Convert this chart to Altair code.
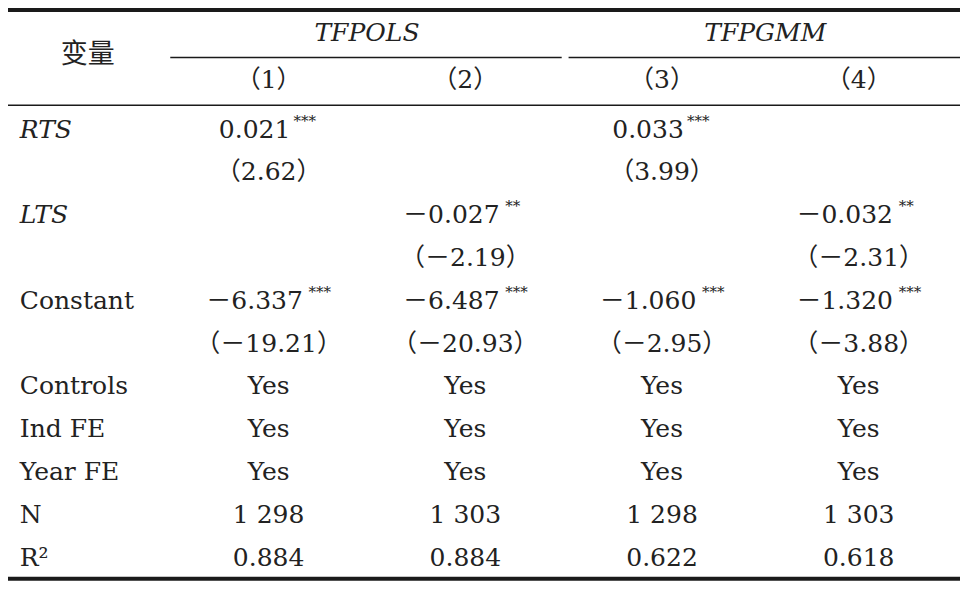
import altair as alt
import pandas as pd

# ---------------- data ----------------
stub_header = "变量"
groups = ["TFPOLS", "TFPGMM"]
col_heads = ["（1）", "（2）", "（3）", "（4）"]

coef_vars = ["RTS", "LTS", "Constant"]
coef_italic = [True, True, False]
coef = [
    ["0.021", "", "－6.337"],
    ["", "－0.027", "－6.487"],
    ["0.033", "", "－1.060"],
    ["", "－0.032", "－1.320"],
]
stars = [
    ["***", "", "***"],
    ["", "**", "***"],
    ["***", "", "***"],
    ["", "**", "***"],
]
tstat = [
    ["（2.62）", "", "（－19.21）"],
    ["", "（－2.19）", "（－20.93）"],
    ["（3.99）", "", "（－2.95）"],
    ["", "（－2.31）", "（－3.88）"],
]
stat_rows = ["Controls", "Ind FE", "Year FE", "N", "R²"]
stat_vals = [
    ["Yes", "Yes", "Yes", "1 298", "0.884"],
    ["Yes", "Yes", "Yes", "1 303", "0.884"],
    ["Yes", "Yes", "Yes", "1 298", "0.622"],
    ["Yes", "Yes", "Yes", "1 303", "0.618"],
]

# ---------------- build tables ----------------
LABEL_X = -0.265
labels = []
for i, v in enumerate(coef_vars):
    labels.append({"x": LABEL_X, "y": 2 * i, "text": v, "italic": coef_italic[i]})
for j, v in enumerate(stat_rows):
    labels.append({"x": LABEL_X, "y": 6 + j, "text": v, "italic": False})
labels = pd.DataFrame(labels)

cells, coefs = [], []
for k in range(4):
    for i in range(len(coef_vars)):
        if coef[k][i]:
            coefs.append({"x": k + 1, "y": 2 * i, "text": coef[k][i],
                          "stars": stars[k][i], "neg": coef[k][i].startswith("－")})
        if tstat[k][i]:
            cells.append({"x": k + 1, "y": 2 * i + 1, "text": tstat[k][i]})
    for j in range(len(stat_rows)):
        cells.append({"x": k + 1, "y": 6 + j, "text": stat_vals[k][j]})
    cells.append({"x": k + 1, "y": -1.16, "text": col_heads[k]})
cells = pd.DataFrame(cells)
coefs = pd.DataFrame(coefs)

# ---------------- scales ----------------
xs = alt.Scale(domain=[-0.325, 4.515], nice=False, zero=False)
ys = alt.Scale(domain=[-2.841, 10.545], reverse=True, nice=False, zero=False)
X = lambda f: alt.X(f, scale=xs, axis=None)
Y = lambda f: alt.Y(f, scale=ys, axis=None)

SERIF = "'DejaVu Serif', 'Noto Sans CJK SC', serif"
INK = "#222222"
FS = 25

label_normal = alt.Chart(labels).transform_filter("!datum.italic").mark_text(
    font=SERIF, fontSize=FS, color=INK, align="left", baseline="middle"
).encode(x=X("x:Q"), y=Y("y:Q"), text="text:N")
label_italic = alt.Chart(labels).transform_filter("datum.italic").mark_text(
    font=SERIF, fontSize=FS, color=INK, align="left", baseline="middle", fontStyle="italic"
).encode(x=X("x:Q"), y=Y("y:Q"), text="text:N")

cell_layer = alt.Chart(cells).mark_text(
    font=SERIF, fontSize=FS, color=INK, align="center", baseline="middle"
).encode(x=X("x:Q"), y=Y("y:Q"), text="text:N")

coef_layer = alt.Chart(coefs).mark_text(
    font=SERIF, fontSize=FS, color=INK, align="center", baseline="middle", dx=-14
).encode(x=X("x:Q"), y=Y("y:Q"), text="text:N")

star_pos = alt.Chart(coefs).transform_filter("!datum.neg").mark_text(
    font=SERIF, fontSize=15, color=INK, align="left", baseline="middle", dx=25, dy=-9
).encode(x=X("x:Q"), y=Y("y:Q"), text="stars:N")
star_neg = alt.Chart(coefs).transform_filter("datum.neg").mark_text(
    font=SERIF, fontSize=15, color=INK, align="left", baseline="middle", dx=40, dy=-9
).encode(x=X("x:Q"), y=Y("y:Q"), text="stars:N")

# header texts
head_stub = alt.Chart(pd.DataFrame({"t": [stub_header]})).mark_text(
    font="'Noto Sans CJK SC'", fontSize=27, color=INK, baseline="middle"
).encode(x=alt.X(datum=0.08, scale=xs, axis=None), y=alt.Y(datum=-1.75, scale=ys, axis=None), text="t:N")
head_g1 = alt.Chart(pd.DataFrame({"t": [groups[0]]})).mark_text(
    font=SERIF, fontSize=FS, color=INK, baseline="middle", fontStyle="italic"
).encode(x=alt.X(datum=1.5, scale=xs, axis=None), y=alt.Y(datum=-2.25, scale=ys, axis=None), text="t:N")
head_g2 = alt.Chart(pd.DataFrame({"t": [groups[1]]})).mark_text(
    font=SERIF, fontSize=FS, color=INK, baseline="middle", fontStyle="italic"
).encode(x=alt.X(datum=3.525, scale=xs, axis=None), y=alt.Y(datum=-2.25, scale=ys, axis=None), text="t:N")

def hrule(x1, x2, y, w):
    return alt.Chart(pd.DataFrame({"a": [0]})).mark_rule(color="#1a1a1a", strokeWidth=w).encode(
        x=alt.X(datum=x1, scale=xs, axis=None),
        x2=alt.X2(datum=x2),
        y=alt.Y(datum=y, scale=ys, axis=None),
    )

rules = [
    hrule(-0.325, 4.515, -2.795, 4),
    hrule(0.5, 2.49, -1.682, 1.5),
    hrule(2.525, 4.515, -1.682, 1.5),
    hrule(-0.325, 4.515, -0.568, 1.5),
    hrule(-0.325, 4.515, 10.49, 4),
]

chart = alt.layer(
    *rules, head_stub, head_g1, head_g2,
    label_normal, label_italic, cell_layer, coef_layer, star_pos, star_neg
).properties(
    width=952, height=573, padding=0, autosize=alt.AutoSizeParams(type="none"),
    background="white"
).configure_view(stroke=None)

chart.save("out.html", embed_options={"renderer": "svg", "actions": False})
